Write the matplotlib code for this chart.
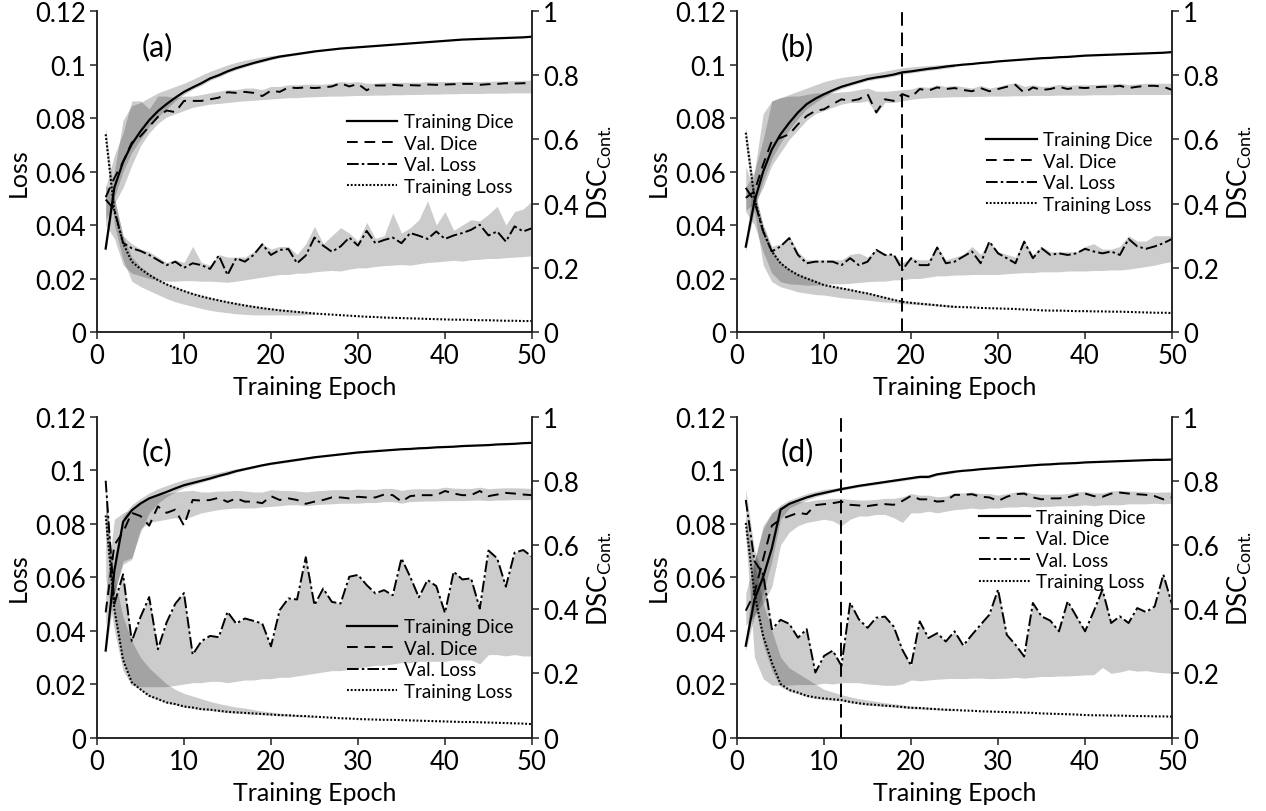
import matplotlib
matplotlib.use('Agg')
import numpy as np
import matplotlib.pyplot as plt

plt.rcParams['font.family'] = ['Lato', 'DejaVu Sans']
plt.rcParams['mathtext.fontset'] = 'custom'
plt.rcParams['mathtext.rm'] = 'Lato'

epochs = np.arange(1, 51)
band_epochs = np.arange(1, 26)

# ---------------- panel (a) ----------------
a_train_dice = [0.26, 0.45, 0.53, 0.585, 0.625, 0.66, 0.688, 0.71, 0.73, 0.748, 0.762, 0.775, 0.79, 0.8, 0.812,
                0.822, 0.83, 0.838, 0.845, 0.852, 0.858, 0.862, 0.866, 0.87, 0.874, 0.877, 0.88, 0.883, 0.885, 0.887,
                0.889, 0.891, 0.893, 0.895, 0.897, 0.899, 0.901, 0.903, 0.905, 0.907, 0.909, 0.911, 0.912, 0.913,
                0.914, 0.915, 0.916, 0.917, 0.918, 0.92]
a_val_dice = [0.42, 0.48, 0.53, 0.59, 0.61, 0.64, 0.67, 0.69, 0.685, 0.72, 0.72, 0.72, 0.725, 0.73, 0.747, 0.745,
              0.748, 0.745, 0.735, 0.752, 0.748, 0.762, 0.76, 0.762, 0.76, 0.762, 0.765, 0.775, 0.765, 0.773, 0.753,
              0.768, 0.768, 0.77, 0.768, 0.769, 0.768, 0.771, 0.77, 0.771, 0.772, 0.773, 0.773, 0.77, 0.772, 0.773,
              0.775, 0.774, 0.775, 0.776]
a_val_loss = [0.0495, 0.0458, 0.0333, 0.0313, 0.0303, 0.0288, 0.0269, 0.025, 0.0263, 0.024, 0.0257, 0.025, 0.0236,
              0.0286, 0.0213, 0.0276, 0.0263, 0.0288, 0.0328, 0.0288, 0.0307, 0.031, 0.0257, 0.0286, 0.0353, 0.0323,
              0.030, 0.032, 0.0353, 0.0323, 0.0378, 0.0332, 0.0344, 0.0353, 0.0332, 0.037, 0.036, 0.0348, 0.0376,
              0.0348, 0.0361, 0.037, 0.0382, 0.0401, 0.0361, 0.0376, 0.0338, 0.0395, 0.0376, 0.0388]
a_train_loss = [0.0739, 0.0451, 0.0332, 0.0263, 0.0236, 0.0213, 0.0194, 0.0178, 0.0165, 0.0153, 0.0142, 0.0133,
                0.0125, 0.0118, 0.0111, 0.0105, 0.0099, 0.0094, 0.0089, 0.0085, 0.0081, 0.0078, 0.0075, 0.0072,
                0.0069, 0.0067, 0.0065, 0.0063, 0.0061, 0.0059, 0.0057, 0.0056, 0.0054, 0.0053, 0.0052, 0.0051,
                0.005, 0.0049, 0.0048, 0.0047, 0.0046, 0.0046, 0.0045, 0.0044, 0.0044, 0.0043, 0.0042, 0.0042,
                0.0041, 0.0041]
a_td_lo = [0.25, 0.42, 0.5, 0.56, 0.6, 0.64, 0.67, 0.695, 0.72, 0.74, 0.756, 0.769, 0.784, 0.795, 0.807, 0.817,
           0.826, 0.834, 0.841, 0.848, 0.854, 0.859, 0.863, 0.867, 0.871]
a_td_hi = [0.27, 0.5, 0.66, 0.705, 0.715, 0.73, 0.745, 0.755, 0.765, 0.775, 0.787, 0.8, 0.812, 0.822, 0.832, 0.84,
           0.847, 0.852, 0.857, 0.861, 0.864, 0.867, 0.87, 0.873, 0.876]
a_vd_lo = [0.35, 0.4, 0.45, 0.52, 0.58, 0.62, 0.65, 0.67, 0.68, 0.69, 0.7, 0.705, 0.71, 0.712, 0.715, 0.718, 0.72,
           0.722, 0.724, 0.726, 0.728, 0.73, 0.73, 0.732, 0.733, 0.734, 0.735, 0.735, 0.736, 0.737, 0.737, 0.738,
           0.738, 0.739, 0.739, 0.74, 0.74, 0.741, 0.741, 0.742, 0.742, 0.743, 0.743, 0.743, 0.744, 0.744, 0.744,
           0.745, 0.745, 0.745]
a_vd_hi = [0.45, 0.55, 0.62, 0.72, 0.72, 0.695, 0.735, 0.735, 0.73, 0.735, 0.735, 0.74, 0.745, 0.75, 0.755, 0.755,
           0.76, 0.76, 0.755, 0.765, 0.765, 0.77, 0.77, 0.772, 0.772, 0.772, 0.775, 0.78, 0.778, 0.78, 0.775, 0.775,
           0.778, 0.778, 0.778, 0.778, 0.778, 0.78, 0.78, 0.78, 0.78, 0.781, 0.781, 0.78, 0.781, 0.782, 0.782, 0.783,
           0.784, 0.785]
a_vl_lo = [0.04, 0.035, 0.025, 0.022, 0.021, 0.02, 0.0195, 0.019, 0.019, 0.0192, 0.0192, 0.019, 0.019, 0.0188,
           0.0186, 0.019, 0.0195, 0.02, 0.0205, 0.021, 0.0215, 0.0215, 0.022, 0.022, 0.0225, 0.0228, 0.023, 0.0228,
           0.0235, 0.024, 0.024, 0.0245, 0.0248, 0.025, 0.0252, 0.025, 0.0255, 0.026, 0.0262, 0.0265, 0.0268,
           0.0265, 0.027, 0.0272, 0.0275, 0.0275, 0.0278, 0.028, 0.0282, 0.0285]
a_vl_hi = [0.055, 0.05, 0.036, 0.033, 0.031, 0.03, 0.028, 0.026, 0.027, 0.026, 0.032, 0.026, 0.025, 0.029, 0.028,
           0.028, 0.028, 0.03, 0.033, 0.031, 0.032, 0.032, 0.029, 0.033, 0.0395, 0.033, 0.036, 0.039, 0.037, 0.034,
           0.041, 0.035, 0.036, 0.0445, 0.037, 0.039, 0.042, 0.049, 0.04, 0.045, 0.038, 0.04, 0.042, 0.0415, 0.044,
           0.047, 0.04, 0.045, 0.046, 0.049]
a_tl_lo = [0.07, 0.04, 0.027, 0.019, 0.017, 0.0155, 0.014, 0.0125, 0.0113, 0.0104, 0.0096, 0.0088, 0.0081, 0.0076,
           0.0072, 0.0068, 0.0066, 0.0064, 0.0064, 0.0064, 0.0064, 0.0063, 0.0063, 0.0064, 0.0066]
a_tl_hi = [0.0765, 0.05, 0.036, 0.028, 0.0245, 0.022, 0.02, 0.0183, 0.017, 0.0158, 0.0147, 0.0138, 0.013, 0.0123,
           0.0116, 0.011, 0.0104, 0.0099, 0.0094, 0.009, 0.0086, 0.0083, 0.008, 0.0077, 0.0074]

# ---------------- panel (b) ----------------
b_train_dice = [0.266, 0.407, 0.5, 0.569, 0.616, 0.652, 0.684, 0.71, 0.727, 0.741, 0.753, 0.764, 0.772, 0.78, 0.788,
                0.793, 0.797, 0.802, 0.809, 0.812, 0.816, 0.82, 0.823, 0.827, 0.83, 0.833, 0.835, 0.838, 0.84, 0.843,
                0.845, 0.847, 0.849, 0.851, 0.853, 0.854, 0.856, 0.857, 0.859, 0.861, 0.862, 0.863, 0.864, 0.865,
                0.866, 0.867, 0.868, 0.869, 0.87, 0.872]
b_val_dice = [0.418, 0.438, 0.522, 0.595, 0.605, 0.616, 0.647, 0.673, 0.689, 0.694, 0.71, 0.725, 0.72, 0.725, 0.741,
              0.684, 0.725, 0.72, 0.741, 0.731, 0.757, 0.752, 0.762, 0.757, 0.76, 0.754, 0.75, 0.76, 0.75, 0.757,
              0.764, 0.77, 0.745, 0.762, 0.754, 0.757, 0.764, 0.757, 0.762, 0.76, 0.762, 0.764, 0.764, 0.767, 0.76,
              0.764, 0.767, 0.767, 0.764, 0.754]
b_val_loss = [0.0539, 0.0489, 0.0376, 0.0301, 0.032, 0.0351, 0.0288, 0.0257, 0.0263, 0.0263, 0.0263, 0.025, 0.0276,
              0.025, 0.0263, 0.0307, 0.0288, 0.029, 0.0232, 0.0276, 0.025, 0.025, 0.0316, 0.0257, 0.0263, 0.0282,
              0.0301, 0.0257, 0.0338, 0.0294, 0.0276, 0.0257, 0.0338, 0.0276, 0.0313, 0.0288, 0.0294, 0.0288, 0.0294,
              0.0311, 0.0301, 0.0294, 0.0301, 0.0288, 0.0348, 0.032, 0.0311, 0.032, 0.0332, 0.0348]
b_train_loss = [0.0745, 0.0501, 0.0376, 0.0301, 0.0257, 0.0232, 0.0213, 0.02, 0.0188, 0.0175, 0.0169, 0.0163,
                0.0157, 0.015, 0.0144, 0.0136, 0.0128, 0.012, 0.0113, 0.0109, 0.0106, 0.0103, 0.01, 0.0097, 0.0094,
                0.0093, 0.0092, 0.009, 0.0089, 0.0088, 0.0087, 0.0086, 0.0084, 0.0083, 0.0081, 0.008, 0.008, 0.0079,
                0.0078, 0.0078, 0.0077, 0.0077, 0.0076, 0.0076, 0.0075, 0.0074, 0.0073, 0.0072, 0.0072, 0.0071]
b_td_lo = [0.25, 0.38, 0.47, 0.54, 0.59, 0.63, 0.665, 0.695, 0.715, 0.733, 0.747, 0.758, 0.767, 0.775, 0.783,
           0.788, 0.792, 0.797, 0.803, 0.807, 0.811, 0.815, 0.818, 0.822, 0.825]
b_td_hi = [0.28, 0.5, 0.68, 0.72, 0.73, 0.74, 0.75, 0.76, 0.77, 0.78, 0.787, 0.793, 0.797, 0.8, 0.804, 0.808, 0.813,
           0.818, 0.823, 0.826, 0.828, 0.83, 0.832, 0.834, 0.836]
b_vd_lo = [0.38, 0.4, 0.45, 0.52, 0.56, 0.6, 0.63, 0.66, 0.68, 0.69, 0.7, 0.71, 0.715, 0.715, 0.72, 0.68, 0.715,
           0.715, 0.72, 0.725, 0.728, 0.73, 0.731, 0.732, 0.733, 0.733, 0.734, 0.734, 0.735, 0.735, 0.735, 0.736,
           0.736, 0.737, 0.737, 0.737, 0.738, 0.738, 0.738, 0.738, 0.739, 0.739, 0.739, 0.74, 0.74, 0.74, 0.74, 0.74,
           0.74, 0.74]
b_vd_hi = [0.45, 0.5, 0.6, 0.72, 0.73, 0.735, 0.735, 0.74, 0.745, 0.745, 0.745, 0.748, 0.75, 0.755, 0.76, 0.75,
           0.75, 0.752, 0.755, 0.757, 0.765, 0.762, 0.77, 0.765, 0.768, 0.764, 0.76, 0.768, 0.76, 0.765, 0.772,
           0.777, 0.765, 0.77, 0.765, 0.766, 0.772, 0.768, 0.77, 0.77, 0.771, 0.772, 0.773, 0.775, 0.771, 0.773,
           0.775, 0.775, 0.775, 0.775]
b_vl_lo = [0.045, 0.04, 0.03, 0.022, 0.0188, 0.018, 0.0178, 0.0175, 0.0175, 0.0178, 0.018, 0.018, 0.0182, 0.0185,
           0.0188, 0.019, 0.019, 0.0195, 0.0195, 0.02, 0.02, 0.0205, 0.021, 0.021, 0.0213, 0.0213, 0.0215, 0.0215,
           0.0215, 0.0215, 0.0218, 0.022, 0.0222, 0.0222, 0.0225, 0.0225, 0.0225, 0.0228, 0.0228, 0.0228, 0.023,
           0.023, 0.0232, 0.0232, 0.0235, 0.024, 0.0245, 0.025, 0.0258, 0.0263]
b_vl_hi = [0.062, 0.052, 0.04, 0.032, 0.033, 0.036, 0.03, 0.027, 0.027, 0.027, 0.027, 0.027, 0.029, 0.0295, 0.028,
           0.031, 0.029, 0.029, 0.026, 0.027, 0.027, 0.027, 0.032, 0.027, 0.028, 0.029, 0.032, 0.029, 0.034, 0.03,
           0.029, 0.028, 0.034, 0.029, 0.032, 0.03, 0.03, 0.03, 0.03, 0.032, 0.033, 0.031, 0.031, 0.032, 0.036,
           0.034, 0.034, 0.036, 0.036, 0.036]
b_tl_lo = [0.07, 0.045, 0.025, 0.0188, 0.0169, 0.016, 0.015, 0.0145, 0.014, 0.0138, 0.0133, 0.0128, 0.0125, 0.0122,
           0.0119, 0.0115, 0.0112, 0.011, 0.0106, 0.0104, 0.0102, 0.01, 0.0097, 0.0094, 0.0092]
b_tl_hi = [0.077, 0.053, 0.04, 0.031, 0.0262, 0.0237, 0.0218, 0.0205, 0.0193, 0.018, 0.0174, 0.0168, 0.0162,
           0.0155, 0.0149, 0.0141, 0.0133, 0.0125, 0.0118, 0.0114, 0.0111, 0.0108, 0.0105, 0.0102, 0.0099]

# ---------------- panel (c) ----------------
c_train_dice = [0.271, 0.52, 0.672, 0.708, 0.729, 0.745, 0.755, 0.765, 0.776, 0.786, 0.793, 0.8, 0.807, 0.815,
                0.822, 0.83, 0.836, 0.842, 0.848, 0.853, 0.857, 0.861, 0.865, 0.869, 0.873, 0.876, 0.879, 0.882,
                0.885, 0.888, 0.89, 0.892, 0.894, 0.896, 0.898, 0.899, 0.901, 0.902, 0.904, 0.905, 0.906, 0.908,
                0.909, 0.91, 0.911, 0.913, 0.914, 0.915, 0.917, 0.918]
c_val_dice = [0.39, 0.6, 0.64, 0.70, 0.69, 0.66, 0.72, 0.70, 0.71, 0.66, 0.74, 0.738, 0.74, 0.747, 0.734, 0.745,
              0.735, 0.735, 0.73, 0.752, 0.74, 0.745, 0.74, 0.728, 0.735, 0.74, 0.748, 0.748, 0.745, 0.75, 0.748,
              0.748, 0.757, 0.755, 0.735, 0.752, 0.755, 0.755, 0.755, 0.768, 0.76, 0.755, 0.755, 0.768, 0.752,
              0.757, 0.762, 0.76, 0.757, 0.755]
c_val_loss = [0.096, 0.05, 0.061, 0.036, 0.045, 0.0525, 0.033, 0.043, 0.05, 0.054, 0.031, 0.036, 0.038, 0.0375,
              0.047, 0.0426, 0.0445, 0.0436, 0.0426, 0.0341, 0.0476, 0.052, 0.0516, 0.0674, 0.0495, 0.0557, 0.0507,
              0.0501, 0.0601, 0.0608, 0.057, 0.0539, 0.0551, 0.0532, 0.067, 0.0601, 0.0524, 0.0589, 0.0566, 0.0466,
              0.062, 0.0591, 0.0595, 0.0482, 0.0699, 0.067, 0.0564, 0.0691, 0.0701, 0.0676]
c_train_loss = [0.083, 0.048, 0.029, 0.0206, 0.018, 0.0156, 0.0144, 0.0131, 0.0125, 0.0116, 0.0112, 0.0106, 0.0104,
                0.01, 0.0096, 0.0094, 0.0092, 0.009, 0.0088, 0.0086, 0.0084, 0.0083, 0.0081, 0.008, 0.0078, 0.0076,
                0.0074, 0.0072, 0.0071, 0.0069, 0.0068, 0.0067, 0.0066, 0.0066, 0.0065, 0.0064, 0.0063, 0.0062,
                0.0061, 0.006, 0.0059, 0.0058, 0.0058, 0.0057, 0.0056, 0.0055, 0.0054, 0.0053, 0.0052, 0.005]
c_td_lo = [0.26, 0.45, 0.55, 0.56, 0.64, 0.7, 0.73, 0.75, 0.765, 0.778, 0.787, 0.795, 0.803, 0.811, 0.818, 0.826,
           0.833, 0.839, 0.845, 0.85, 0.854, 0.858, 0.862, 0.866, 0.87]
c_td_hi = [0.28, 0.56, 0.69, 0.725, 0.745, 0.762, 0.775, 0.785, 0.795, 0.803, 0.81, 0.815, 0.82, 0.826, 0.832,
           0.837, 0.842, 0.847, 0.851, 0.856, 0.86, 0.864, 0.868, 0.872, 0.876]
c_vd_lo = [0.35, 0.45, 0.54, 0.555, 0.65, 0.67, 0.675, 0.68, 0.685, 0.68, 0.69, 0.7, 0.705, 0.71, 0.713, 0.715,
           0.715, 0.715, 0.718, 0.72, 0.722, 0.725, 0.725, 0.722, 0.725, 0.727, 0.728, 0.73, 0.73, 0.73, 0.732,
           0.732, 0.735, 0.735, 0.73, 0.735, 0.736, 0.737, 0.737, 0.738, 0.738, 0.738, 0.739, 0.74, 0.738, 0.74,
           0.74, 0.741, 0.741, 0.741]
c_vd_hi = [0.45, 0.68, 0.7, 0.71, 0.73, 0.745, 0.755, 0.76, 0.765, 0.768, 0.77, 0.765, 0.765, 0.768, 0.768, 0.77,
           0.768, 0.765, 0.765, 0.772, 0.77, 0.77, 0.768, 0.765, 0.768, 0.77, 0.772, 0.772, 0.772, 0.774, 0.773,
           0.773, 0.776, 0.776, 0.77, 0.774, 0.775, 0.775, 0.775, 0.78, 0.777, 0.776, 0.776, 0.78, 0.775, 0.777,
           0.778, 0.778, 0.777, 0.776]
c_vl_lo = [0.06, 0.04, 0.025, 0.0195, 0.019, 0.019, 0.019, 0.019, 0.0195, 0.02, 0.0205, 0.0205, 0.021, 0.021,
           0.0205, 0.021, 0.0215, 0.0215, 0.022, 0.022, 0.0225, 0.0225, 0.023, 0.0235, 0.024, 0.0245, 0.025, 0.025,
           0.0255, 0.026, 0.0265, 0.027, 0.027, 0.0275, 0.028, 0.028, 0.0285, 0.0285, 0.0285, 0.0285, 0.029,
           0.029, 0.029, 0.0275, 0.031, 0.031, 0.0305, 0.031, 0.0305, 0.0305]
c_vl_hi = c_val_loss
c_tl_lo = [0.078, 0.044, 0.0285, 0.0203, 0.0177, 0.0153, 0.0141, 0.0128, 0.0122, 0.0113, 0.0109, 0.0103, 0.0101,
           0.0097, 0.0093, 0.0091, 0.0089, 0.0087, 0.0085, 0.0083, 0.0081, 0.008, 0.0078, 0.0077, 0.0075]
c_tl_hi = [0.09, 0.06, 0.045, 0.036, 0.03, 0.026, 0.023, 0.02, 0.018, 0.0165, 0.0155, 0.0145, 0.0135, 0.0127, 0.012,
           0.0114, 0.011, 0.0104, 0.0099, 0.0095, 0.0091, 0.0088, 0.0085, 0.0082, 0.0079]

# ---------------- panel (d) ----------------
d_train_dice = [0.286, 0.43, 0.5, 0.59, 0.71, 0.728, 0.738, 0.748, 0.756, 0.762, 0.768, 0.774, 0.779, 0.784, 0.788,
                0.792, 0.796, 0.8, 0.804, 0.808, 0.812, 0.812, 0.82, 0.824, 0.828, 0.831, 0.833, 0.836, 0.838, 0.84,
                0.842, 0.844, 0.846, 0.848, 0.85, 0.851, 0.853, 0.854, 0.855, 0.857, 0.858, 0.859, 0.86, 0.861, 0.862,
                0.863, 0.864, 0.865, 0.865, 0.866]
d_val_dice = [0.395, 0.45, 0.556, 0.66, 0.68, 0.69, 0.7, 0.696, 0.724, 0.727, 0.73, 0.735, 0.725, 0.723, 0.721,
              0.725, 0.727, 0.725, 0.737, 0.753, 0.742, 0.742, 0.735, 0.737, 0.756, 0.756, 0.758, 0.75, 0.748, 0.737,
              0.75, 0.758, 0.76, 0.748, 0.742, 0.745, 0.745, 0.748, 0.756, 0.76, 0.752, 0.75, 0.76, 0.763, 0.76,
              0.758, 0.756, 0.752, 0.742, 0.748]
d_val_loss = [0.0888, 0.066, 0.061, 0.0405, 0.044, 0.0425, 0.0373, 0.0405, 0.0243, 0.0305, 0.0325, 0.0268, 0.0504,
              0.0442, 0.041, 0.0448, 0.0452, 0.0415, 0.0328, 0.0269, 0.0434, 0.0372, 0.039, 0.0359, 0.0397, 0.0344,
              0.0384, 0.0422, 0.0459, 0.0553, 0.0384, 0.0347, 0.0303, 0.0503, 0.0453, 0.0437, 0.0397, 0.0509,
              0.0453, 0.0397, 0.0472, 0.0553, 0.0428, 0.0453, 0.0428, 0.0484, 0.0469, 0.049, 0.0609, 0.0497]
d_train_loss = [0.0802, 0.054, 0.038, 0.028, 0.02, 0.0178, 0.0168, 0.0156, 0.015, 0.0146, 0.0143, 0.014, 0.0133,
                0.0128, 0.0124, 0.0122, 0.0119, 0.0117, 0.0114, 0.0111, 0.011, 0.0108, 0.0106, 0.0104, 0.0103,
                0.0101, 0.01, 0.0098, 0.0097, 0.0096, 0.0095, 0.0094, 0.0093, 0.0092, 0.009, 0.0089, 0.0088, 0.0087,
                0.0086, 0.0084, 0.0083, 0.0083, 0.0082, 0.0082, 0.0081, 0.008, 0.008, 0.0079, 0.0079, 0.0078]
d_td_lo = [0.27, 0.38, 0.45, 0.55, 0.68, 0.715, 0.728, 0.74, 0.75, 0.757, 0.764, 0.77, 0.775, 0.78, 0.784, 0.788,
           0.792, 0.796, 0.8, 0.804, 0.808, 0.808, 0.816, 0.82, 0.824]
d_td_hi = [0.3, 0.55, 0.66, 0.7, 0.725, 0.74, 0.75, 0.76, 0.767, 0.773, 0.776, 0.78, 0.784, 0.789, 0.793, 0.797,
           0.801, 0.805, 0.809, 0.813, 0.817, 0.818, 0.825, 0.829, 0.833]
d_vd_lo = [0.35, 0.38, 0.42, 0.47, 0.6, 0.64, 0.66, 0.67, 0.675, 0.68, 0.675, 0.66, 0.68, 0.69, 0.69, 0.695, 0.695,
           0.685, 0.67, 0.7, 0.7, 0.705, 0.7, 0.705, 0.71, 0.712, 0.715, 0.712, 0.715, 0.715, 0.718, 0.718, 0.72,
           0.718, 0.72, 0.72, 0.722, 0.722, 0.722, 0.725, 0.722, 0.725, 0.725, 0.725, 0.728, 0.728, 0.728, 0.73,
           0.728, 0.73]
d_vd_hi = [0.45, 0.55, 0.65, 0.7, 0.72, 0.73, 0.735, 0.735, 0.74, 0.742, 0.745, 0.745, 0.742, 0.74, 0.74, 0.742,
           0.745, 0.745, 0.75, 0.76, 0.755, 0.755, 0.75, 0.752, 0.762, 0.762, 0.765, 0.76, 0.76, 0.755, 0.76, 0.765,
           0.767, 0.76, 0.758, 0.758, 0.758, 0.76, 0.765, 0.767, 0.762, 0.762, 0.768, 0.77, 0.768, 0.767, 0.766,
           0.764, 0.765, 0.765]
d_vl_lo = [0.075, 0.03, 0.022, 0.0196, 0.0195, 0.0196, 0.0198, 0.0198, 0.0198, 0.0203, 0.02, 0.0205, 0.0205, 0.0205,
           0.02, 0.0198, 0.0195, 0.0195, 0.02, 0.0215, 0.0212, 0.0215, 0.0218, 0.022, 0.0221, 0.022, 0.0222, 0.0222,
           0.022, 0.0221, 0.0222, 0.0225, 0.0222, 0.0225, 0.0228, 0.0228, 0.023, 0.023, 0.0232, 0.0234, 0.0235,
           0.0262, 0.024, 0.0245, 0.0253, 0.0248, 0.025, 0.0245, 0.0242, 0.024]
d_vl_hi = [0.093, 0.07, 0.061, 0.0405, 0.044, 0.0425, 0.0373, 0.0405, 0.0243, 0.0305, 0.0325, 0.0268, 0.0504,
           0.0442, 0.041, 0.0448, 0.0452, 0.0415, 0.0328, 0.0269, 0.0434, 0.0372, 0.039, 0.0359, 0.0397, 0.0344,
           0.0384, 0.0422, 0.0459, 0.0553, 0.0384, 0.0347, 0.0303, 0.0503, 0.0453, 0.0437, 0.0397, 0.0509, 0.0453,
           0.0397, 0.0472, 0.0553, 0.0428, 0.0453, 0.0428, 0.0484, 0.0469, 0.049, 0.0609, 0.0497]
d_tl_lo = [0.078, 0.05, 0.035, 0.025, 0.019, 0.0172, 0.0163, 0.0152, 0.0146, 0.0142, 0.0139, 0.0136, 0.013, 0.0125,
           0.0121, 0.0119, 0.0116, 0.0114, 0.0111, 0.0108, 0.0107, 0.0105, 0.0103, 0.0101, 0.01]
d_tl_hi = [0.082, 0.065, 0.05, 0.04, 0.03, 0.026, 0.024, 0.022, 0.02, 0.018, 0.017, 0.016, 0.0152, 0.0145, 0.014,
           0.0135, 0.013, 0.0126, 0.0122, 0.0118, 0.0116, 0.0113, 0.011, 0.0108, 0.0106]

panel_labels = ['(a)', '(b)', '(c)', '(d)']
legend_labels = ['Training Dice', 'Val. Dice', 'Val. Loss', 'Training Loss']
loss_ticks = [0, 0.02, 0.04, 0.06, 0.08, 0.1, 0.12]
loss_ticklabels = ['0', '0.02', '0.04', '0.06', '0.08', '0.1', '0.12']
dsc_ticks = [0, 0.2, 0.4, 0.6, 0.8, 1]
dsc_ticklabels = ['0', '0.2', '0.4', '0.6', '0.8', '1']
stop_epoch = [None, 19, None, 12]

BAND = dict(color='k', alpha=0.2, linewidth=0)
SPINE = '#222222'


def draw_panel(ax, label, tr_dice, va_dice, va_loss, tr_loss, bands, vline, leg_xy):
    td_lo, td_hi, vd_lo, vd_hi, vl_lo, vl_hi, tl_lo, tl_hi = bands
    ax2 = ax.twinx()

    # shaded spreads
    ax.fill_between(epochs, vl_lo, np.maximum(vl_hi, va_loss), **BAND)
    ax.fill_between(band_epochs, tl_lo, tl_hi, **BAND)
    ax2.fill_between(epochs, vd_lo, np.maximum(vd_hi, va_dice), **BAND)
    ax2.fill_between(band_epochs, td_lo, td_hi, **BAND)

    l_vl, = ax.plot(epochs, va_loss, color='k', lw=1.4, linestyle=(0, (6, 1.6, 1.3, 1.6)))
    l_tl, = ax.plot(epochs, tr_loss, color='k', lw=1.5, linestyle=(0, (0.9, 0.9)))
    l_td, = ax2.plot(epochs, tr_dice, color='k', lw=1.6, linestyle='-')
    l_vd, = ax2.plot(epochs, va_dice, color='k', lw=1.4, linestyle=(0, (5.5, 3.5)))

    if vline is not None:
        ax.axvline(vline, color='k', lw=1.4, linestyle=(0, (7, 3.5)))

    ax.set_xlim(0, 50)
    ax.set_ylim(0, 0.12)
    ax2.set_ylim(0, 1)
    ax.set_xticks([0, 10, 20, 30, 40, 50])
    ax.set_yticks(loss_ticks)
    ax.set_yticklabels(loss_ticklabels)
    ax2.set_yticks(dsc_ticks)
    ax2.set_yticklabels(dsc_ticklabels)

    for a in (ax, ax2):
        a.spines['top'].set_visible(False)
        for s in a.spines.values():
            s.set_linewidth(1.1)
            s.set_color(SPINE)
        a.tick_params(direction='out', length=5, width=1.1, color=SPINE, labelsize=18.5, pad=3)

    ax.set_xlabel('Training Epoch', fontsize=18, labelpad=5)
    ax.set_ylabel('Loss', fontsize=18, labelpad=4)
    ax2.set_ylabel(r'DSC$_{\mathrm{Cont.}}$', fontsize=18.5, labelpad=5)

    ax.text(6.9, 0.107, label, ha='center', va='center', fontsize=22)

    ax2.legend([l_td, l_vd, l_vl, l_tl], legend_labels, loc='center left', bbox_to_anchor=leg_xy,
               frameon=False, fontsize=13.5, handlelength=2.7, handletextpad=0.35, labelspacing=0.24,
               borderpad=0, borderaxespad=0)


fig = plt.figure(figsize=(12.66, 8.12), dpi=100)
W, H = 0.3436, 0.3953
positions = [(0.0766, 0.5899), (0.5822, 0.5899), (0.0766, 0.0905), (0.5822, 0.0905)]
legend_pos = [(0.574, 0.555), (0.572, 0.499), (0.574, 0.244), (0.556, 0.585)]

panel_data = [
    (a_train_dice, a_val_dice, a_val_loss, a_train_loss,
     (a_td_lo, a_td_hi, a_vd_lo, a_vd_hi, a_vl_lo, a_vl_hi, a_tl_lo, a_tl_hi)),
    (b_train_dice, b_val_dice, b_val_loss, b_train_loss,
     (b_td_lo, b_td_hi, b_vd_lo, b_vd_hi, b_vl_lo, b_vl_hi, b_tl_lo, b_tl_hi)),
    (c_train_dice, c_val_dice, c_val_loss, c_train_loss,
     (c_td_lo, c_td_hi, c_vd_lo, c_vd_hi, c_vl_lo, c_vl_hi, c_tl_lo, c_tl_hi)),
    (d_train_dice, d_val_dice, d_val_loss, d_train_loss,
     (d_td_lo, d_td_hi, d_vd_lo, d_vd_hi, d_vl_lo, d_vl_hi, d_tl_lo, d_tl_hi)),
]

for i, (pos, data) in enumerate(zip(positions, panel_data)):
    ax = fig.add_axes([pos[0], pos[1], W, H])
    tr_dice, va_dice, va_loss, tr_loss, bands = data
    draw_panel(ax, panel_labels[i], tr_dice, va_dice, va_loss, tr_loss, bands, stop_epoch[i], legend_pos[i])

fig.savefig('out.png', dpi=100)
